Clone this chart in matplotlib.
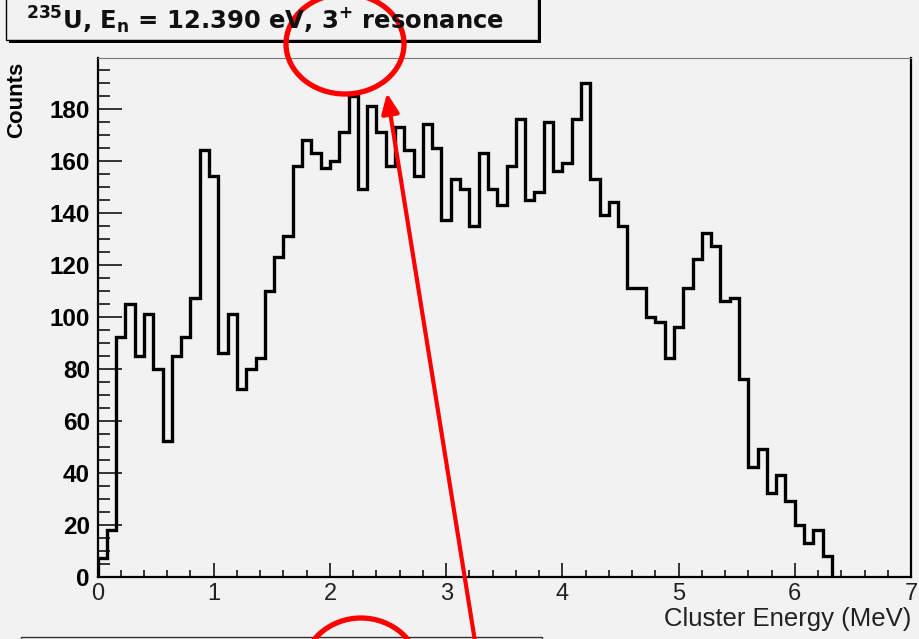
import numpy as np
import matplotlib
matplotlib.use("Agg")
import matplotlib.pyplot as plt
from matplotlib.patches import Rectangle, Ellipse, FancyArrowPatch

plt.rcParams['font.family'] = ['Liberation Sans', 'DejaVu Sans']
plt.rcParams['mathtext.fontset'] = 'custom'
plt.rcParams['mathtext.rm'] = 'DejaVu Sans:bold'
plt.rcParams['mathtext.default'] = 'rm'

# cluster energy spectrum, 0.08 MeV bins starting at 0
bin_width = 0.08
counts = [7, 18, 92, 105, 85, 101, 80, 52, 85, 92, 107, 164, 154, 86, 101, 72,
          80, 84, 110, 123, 131, 158, 168, 163, 157, 160, 171, 185,
          149, 181, 171, 158, 173, 164, 154, 174, 165, 137, 153, 149, 135, 163,
          149, 143, 158, 176, 145, 148, 175, 156, 159, 176, 190,
          153, 139, 144, 135, 111, 111, 100, 98, 84, 96, 111, 122, 132, 127,
          106, 107, 76, 42, 49, 32, 39, 29, 20, 13, 18, 8]
edges = np.arange(len(counts) + 1) * bin_width

x_ticks = [0, 1, 2, 3, 4, 5, 6, 7]
y_ticks = [0, 20, 40, 60, 80, 100, 120, 140, 160, 180]

title = r'$^{235}$U, E$_{n}$ = 12.390 eV, 3$^{+}$ resonance'
bg = '#f2f2f2'

fig = plt.figure(figsize=(9.2, 6.39), dpi=100, facecolor=bg)
ax = fig.add_axes([0.106, 0.0978, 0.8842, 0.8114], facecolor=bg)

ax.stairs(counts, edges, color='black', lw=2.4, zorder=3)

ax.set_xlim(0, 7)
ax.set_ylim(0, 199.5)
ax.set_xticks(x_ticks)
ax.set_yticks(y_ticks)
ax.set_xticks(np.arange(0, 7.01, 0.2), minor=True)
ax.set_yticks(np.arange(0, 200, 5), minor=True)
ax.tick_params(axis='both', which='both', direction='in', width=1.1, color='black')
ax.tick_params(axis='x', which='major', length=10, pad=4.5, labelsize=17, labelcolor='#222222')
ax.tick_params(axis='x', which='minor', length=5)
ax.tick_params(axis='y', which='major', length=17, pad=5.5, labelsize=17.5)
ax.tick_params(axis='y', which='minor', length=8.6)
for lab in ax.get_yticklabels():
    lab.set_fontweight('bold')

for side in ['left', 'bottom', 'right']:
    ax.spines[side].set_linewidth(1.6)
ax.spines['top'].set_linewidth(0.8)
ax.spines['top'].set_color('#777777')

fig.text(17 / 920, 1 - 62 / 639, 'Counts', rotation=90, ha='center', va='top',
         fontsize=16, fontweight='bold')
fig.text(911 / 920, 1 - 626 / 639, 'Cluster Energy (MeV)', ha='right', va='baseline',
         fontsize=18.5, color='#222222')

# overlay in pixel coordinates for the title pave and the markup
ov = fig.add_axes([0, 0, 1, 1], facecolor='none', zorder=10)
ov.set_xlim(0, 920)
ov.set_ylim(639, 0)
ov.axis('off')

ov.add_patch(Rectangle((9, -7), 532, 50, facecolor='black', edgecolor='none'))
ov.add_patch(Rectangle((6, -10), 532, 50, facecolor=bg, edgecolor='black', lw=1.0))
ov.text(26, 29, title, ha='left', va='baseline', fontsize=17.5,
        family='DejaVu Sans', fontweight='bold', color='#111111')

ov.add_patch(Rectangle((24, 640), 521, 40, facecolor='black', edgecolor='none'))
ov.add_patch(Rectangle((21, 637), 521, 40, facecolor=bg, edgecolor='#333333', lw=1.0))

ov.add_patch(Ellipse((345, 44), 118, 100, fill=False, edgecolor='red', lw=3.8))
ov.add_patch(Ellipse((361, 673), 118, 110, fill=False, edgecolor='red', lw=3.8))
ov.add_patch(FancyArrowPatch((478, 660), (387, 93),
                             arrowstyle='-|>,head_length=0.8,head_width=0.35',
                             mutation_scale=15, color='red', lw=3, shrinkA=0, shrinkB=0))

fig.savefig('out.png', dpi=100, facecolor=bg)
